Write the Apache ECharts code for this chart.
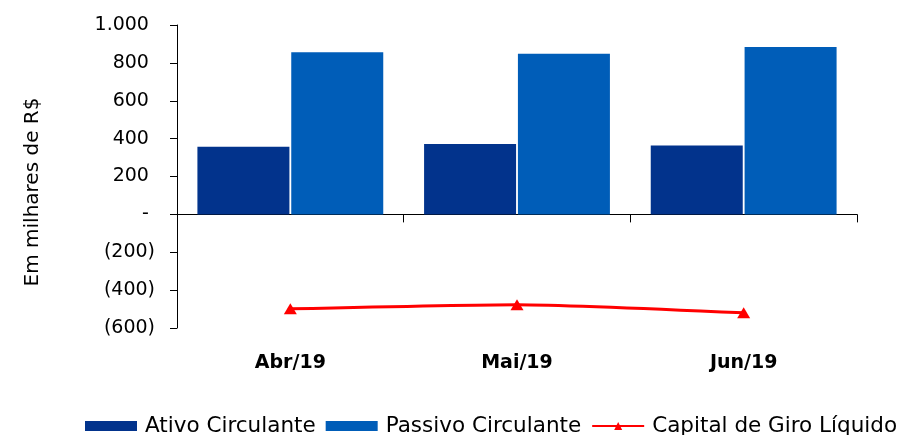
<!DOCTYPE html>
<html>
<head>
<meta charset="utf-8">
<script src="https://cdn.jsdelivr.net/npm/echarts@6/dist/echarts.min.js"></script>
<style>
  html, body { margin: 0; padding: 0; background: #ffffff; }
  #chart { width: 899px; height: 435px; }
</style>
</head>
<body>
<div id="chart"></div>
<script>
// Months on the category axis
const months = ['Abr/19', 'Mai/19', 'Jun/19'];

// Values in thousands of R$
const ativoCirculante = [357, 371, 364];
const passivoCirculante = [856, 848, 884];
const capitalGiroLiquido = [-499, -477, -520];

// Value axis range and step
const yMin = -600;
const yMax = 1000;
const yStep = 200;

const seriesNames = ['Ativo Circulante', 'Passivo Circulante', 'Capital de Giro Líquido'];

const FONT = 'DejaVu Sans';

// Accounting-style tick labels: 1.000, -, (200)
function fmtAxis(v) {
  if (v === 0) return '-\u00a0';
  const abs = Math.abs(v).toString().replace(/\B(?=(\d{3})+(?!\d))/g, '.');
  return v < 0 ? '(' + abs + ')' : abs + '\u00a0';
}

const chart = echarts.init(document.getElementById('chart'), null, { renderer: 'canvas' });

chart.setOption({
  animation: false,
  backgroundColor: '#ffffff',
  grid: { left: 177, right: 42, top: 25, bottom: 107, containLabel: false },
  graphic: [{
    type: 'text',
    x: 33,
    y: 192,
    rotation: Math.PI / 2,
    style: {
      text: 'Em milhares de R$',
      font: '20px "DejaVu Sans"',
      fill: '#000000',
      align: 'center',
      verticalAlign: 'middle'
    }
  }],
  legend: {
    data: [
      { name: seriesNames[0], icon: 'rect' },
      { name: seriesNames[1], icon: 'rect' },
      { name: seriesNames[2] }
    ],
    left: 85,
    top: 415,
    padding: 0,
    itemWidth: 52,
    itemHeight: 10,
    itemGap: 10,
    textStyle: { fontFamily: FONT, fontSize: 21.5, color: '#000000', padding: [0, 0, 0, 3] }
  },
  xAxis: [
    {
      type: 'category',
      data: months,
      position: 'bottom',
      axisLine: { onZero: true, lineStyle: { color: '#000000', width: 1 } },
      axisTick: { show: true, length: 8, lineStyle: { color: '#000000' } },
      axisLabel: { show: false }
    },
    {
      type: 'category',
      data: months,
      position: 'bottom',
      axisLine: { show: false, onZero: false },
      axisTick: { show: false },
      axisLabel: {
        show: true,
        margin: 26,
        fontFamily: FONT,
        fontSize: 19,
        fontWeight: 'bold',
        color: '#000000'
      }
    }
  ],
  yAxis: {
    type: 'value',
    min: yMin,
    max: yMax,
    interval: yStep,
    axisLine: { show: true, lineStyle: { color: '#000000', width: 1 } },
    axisTick: { show: true, length: 7, lineStyle: { color: '#000000' } },
    splitLine: { show: false },
    axisLabel: {
      margin: 22,
      fontFamily: FONT,
      fontSize: 19,
      color: '#000000',
      formatter: fmtAxis
    }
  },
  series: [
    {
      name: seriesNames[0],
      type: 'bar',
      xAxisIndex: 0,
      data: ativoCirculante,
      barWidth: 92,
      barGap: '2%',
      itemStyle: { color: '#02338C' }
    },
    {
      name: seriesNames[1],
      type: 'bar',
      xAxisIndex: 0,
      data: passivoCirculante,
      barWidth: 92,
      barGap: '2%',
      itemStyle: { color: '#005DB8' }
    },
    {
      name: seriesNames[2],
      type: 'line',
      xAxisIndex: 0,
      data: capitalGiroLiquido,
      smooth: 0.2,
      symbol: 'triangle',
      symbolSize: [13, 11],
      lineStyle: { color: '#FF0000', width: 3 },
      itemStyle: { color: '#FF0000' },
      z: 5
    }
  ]
});
</script>
</body>
</html>
